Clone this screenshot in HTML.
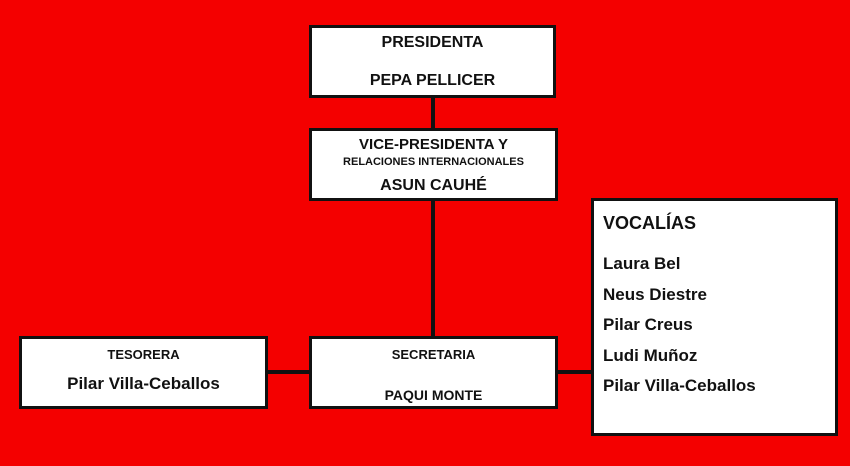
<!DOCTYPE html>
<html><head><style>
body{margin:0;width:850px;height:466px;background:#f40000;position:relative;overflow:hidden;font-family:"Liberation Sans",sans-serif;font-weight:bold;color:#111}
.b{position:absolute;background:#fff;border:3px solid #111;box-sizing:border-box;text-align:center}
.l{position:absolute;background:#111}
.t{position:absolute;left:0;right:0;text-align:center;white-space:nowrap}
</style></head><body>
<div class="l" style="left:431px;top:96px;width:4px;height:243px"></div>
<div class="l" style="left:265px;top:370px;width:330px;height:4px"></div>
<div class="b" style="left:309px;top:25px;width:247px;height:73px">
<div class="t" style="top:6px;font-size:16px">PRESIDENTA</div>
<div class="t" style="top:44px;font-size:16px">PEPA PELLICER</div></div>
<div class="b" style="left:309px;top:128px;width:249px;height:73px">
<div class="t" style="top:5px;font-size:15px">VICE-PRESIDENTA Y</div>
<div class="t" style="top:25px;font-size:11px">RELACIONES INTERNACIONALES</div>
<div class="t" style="top:46px;font-size:16px">ASUN CAUHÉ</div></div>
<div class="b" style="left:19px;top:336px;width:249px;height:73px">
<div class="t" style="top:8px;font-size:13px">TESORERA</div>
<div class="t" style="top:35px;font-size:17px">Pilar Villa-Ceballos</div></div>
<div class="b" style="left:309px;top:336px;width:249px;height:73px">
<div class="t" style="top:8px;font-size:13px">SECRETARIA</div>
<div class="t" style="top:48px;font-size:14px">PAQUI MONTE</div></div>
<div class="b" style="left:591px;top:198px;width:247px;height:238px;text-align:left">
<div style="position:absolute;left:9px;top:12px;font-size:18px">VOCALÍAS</div>
<div style="position:absolute;left:9px;top:48px;font-size:17px;line-height:30.5px">Laura Bel<br>Neus Diestre<br>Pilar Creus<br>Ludi Muñoz<br>Pilar Villa-Ceballos</div></div>
</body></html>
